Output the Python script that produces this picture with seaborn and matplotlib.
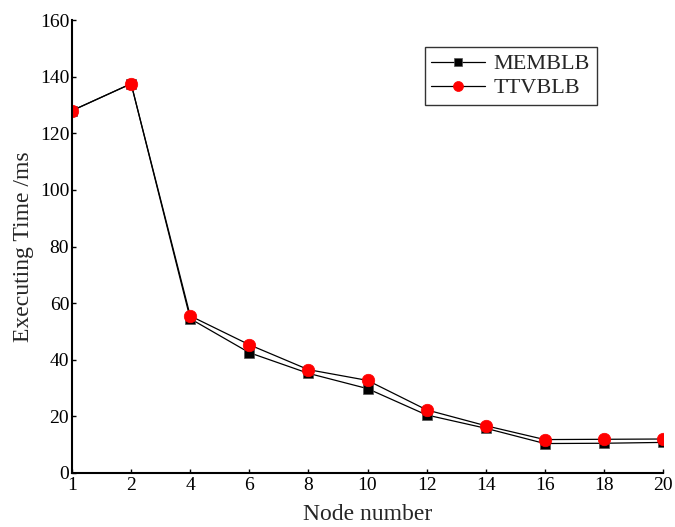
import matplotlib
matplotlib.use("Agg")
import matplotlib.pyplot as plt
import seaborn as sns
import pandas as pd

nodes = ["1", "2", "4", "6", "8", "10", "12", "14", "16", "18", "20"]
memblb = [128, 137.5, 54.5, 42.5, 35.2, 29.8, 20.5, 15.8, 10.4, 10.5, 10.8]
ttvblb = [128, 137.5, 55.5, 45.3, 36.5, 32.7, 22.3, 16.7, 11.8, 11.9, 12.0]
yticks = [0, 20, 40, 60, 80, 100, 120, 140, 160]

df = pd.DataFrame({"node": nodes, "MEMBLB": memblb, "TTVBLB": ttvblb})

sns.set_style("white")
plt.rcParams["font.family"] = ["Liberation Serif", "DejaVu Serif"]

fig = plt.figure(figsize=(6.75, 5.27), dpi=100)
ax = fig.add_axes([0.1067, 0.1025, 0.8755, 0.8595])

sns.lineplot(data=df, x="node", y="MEMBLB", ax=ax, color="black", lw=0.9,
             marker="s", markersize=7.5, markerfacecolor="black",
             markeredgecolor="#555555", markeredgewidth=0.5, label="MEMBLB")
sns.lineplot(data=df, x="node", y="TTVBLB", ax=ax, color="black", lw=0.9,
             marker="o", markersize=9, markerfacecolor="red",
             markeredgecolor="red", markeredgewidth=0.5, label="TTVBLB")

ax.set_xlim(0, len(nodes) - 1)
ax.set_ylim(0, 160)
ax.set_yticks(yticks)
ax.set_xlabel("Node number", fontsize=17, labelpad=7)
ax.set_ylabel("Executing Time /ms", fontsize=17, labelpad=4)
ax.tick_params(axis="y", labelsize=14, direction="in", length=3,
               width=1, pad=2, colors="black", left=True)
ax.tick_params(axis="x", labelsize=14, direction="in", length=3,
               width=1, pad=3, colors="black", bottom=True)
for side in ["top", "right"]:
    ax.spines[side].set_visible(False)
for side in ["left", "bottom"]:
    ax.spines[side].set_color("black")
    ax.spines[side].set_linewidth(1.5)

leg = ax.legend(loc="upper left", bbox_to_anchor=(0.597, 0.94), fontsize=16,
                frameon=True, fancybox=False, edgecolor="black",
                handlelength=2.4, borderpad=0.3, labelspacing=0.15,
                handletextpad=0.4, borderaxespad=0, markerscale=0.8)
leg.get_frame().set_linewidth(1.0)

fig.savefig("out.png", dpi=100)
